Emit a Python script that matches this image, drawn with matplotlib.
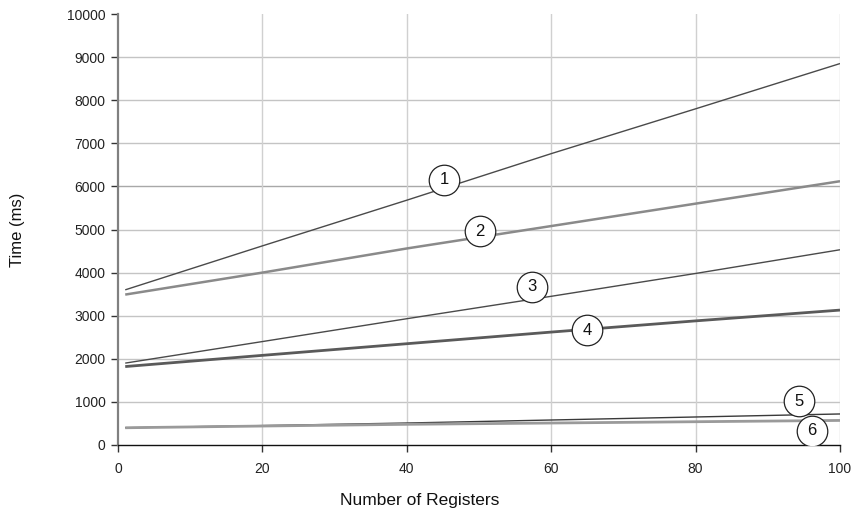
import matplotlib
matplotlib.use("Agg")
import matplotlib.pyplot as plt

plt.rcParams['font.family'] = ['Liberation Sans', 'DejaVu Sans']

# Number of registers sampled
registers = [1, 20, 40, 60, 80, 100]

# Measured times (ms) for each configuration
time_1 = [3600, 4620, 5680, 6760, 7800, 8850]
time_2 = [3490, 4000, 4560, 5080, 5600, 6120]
time_3 = [1900, 2400, 2930, 3450, 3980, 4530]
time_4 = [1820, 2080, 2350, 2620, 2880, 3130]
time_5 = [400, 450, 510, 580, 650, 720]
time_6 = [400, 440, 480, 510, 540, 570]

series = [time_1, time_2, time_3, time_4, time_5, time_6]
series_labels = ["1", "2", "3", "4", "5", "6"]

# Callout positions (register, time) for the numbered circles
callout_x = [45.2, 50.1, 57.3, 65.0, 94.3, 96.1]
callout_y = [6150, 4965, 3666, 2668, 1020, 325]

x_ticks = [0, 20, 40, 60, 80, 100]
y_ticks = list(range(0, 10001, 1000))

styles = [
    dict(color="#4a4a4a", lw=1.0),
    dict(color="#8a8a8a", lw=1.8),
    dict(color="#4a4a4a", lw=1.0),
    dict(color="#5a5a5a", lw=2.0),
    dict(color="#3a3a3a", lw=1.0),
    dict(color="#9a9a9a", lw=2.0),
]

fig = plt.figure(figsize=(8.6, 5.17), dpi=100)
ax = fig.add_axes([118 / 860, 1 - 445 / 517, 722 / 860, 431 / 517])

ax.set_xlim(0, 100)
ax.set_ylim(0, 10000)
ax.set_xticks(x_ticks)
ax.set_yticks(y_ticks)

# Grid (no line along the top edge)
for yt in y_ticks[1:-1]:
    ax.axhline(yt, color="#a8a8a8" if yt == 6000 else "#c4c4c4", lw=1.0, zorder=0)
for xt in x_ticks[1:]:
    ax.axvline(xt, color="#d0d0d0", lw=1.0, zorder=0)

for vals, st in zip(series, styles):
    ax.plot(registers, vals, solid_capstyle="butt", zorder=2, **st)

for lab, cx, cy in zip(series_labels, callout_x, callout_y):
    ax.plot([cx], [cy], marker="o", markersize=22, markerfacecolor="white",
            markeredgecolor="#222222", markeredgewidth=0.9, zorder=3)
    ax.text(cx, cy, lab, ha="center", va="center", fontsize=12,
            color="#111111", zorder=4)

for side in ("top", "right"):
    ax.spines[side].set_visible(False)
ax.spines["left"].set_color("#808080")
ax.spines["left"].set_linewidth(1.6)
ax.spines["bottom"].set_color("#111111")
ax.spines["bottom"].set_linewidth(1.0)

ax.tick_params(axis="y", direction="out", length=5, width=1, color="#333333",
               labelsize=10, labelcolor="#222222", pad=4)
ax.tick_params(axis="x", direction="out", length=5, width=1, color="#333333",
               labelsize=10, labelcolor="#222222", pad=7)

fig.text(420 / 860, 1 - 500 / 517, "Number of Registers", ha="center",
         va="center", fontsize=12.5, color="#111111")
fig.text(18 / 860, 1 - 230 / 517, "Time (ms)", ha="center", va="center",
         rotation=90, fontsize=12, color="#111111")

fig.savefig("out.png", dpi=100)
